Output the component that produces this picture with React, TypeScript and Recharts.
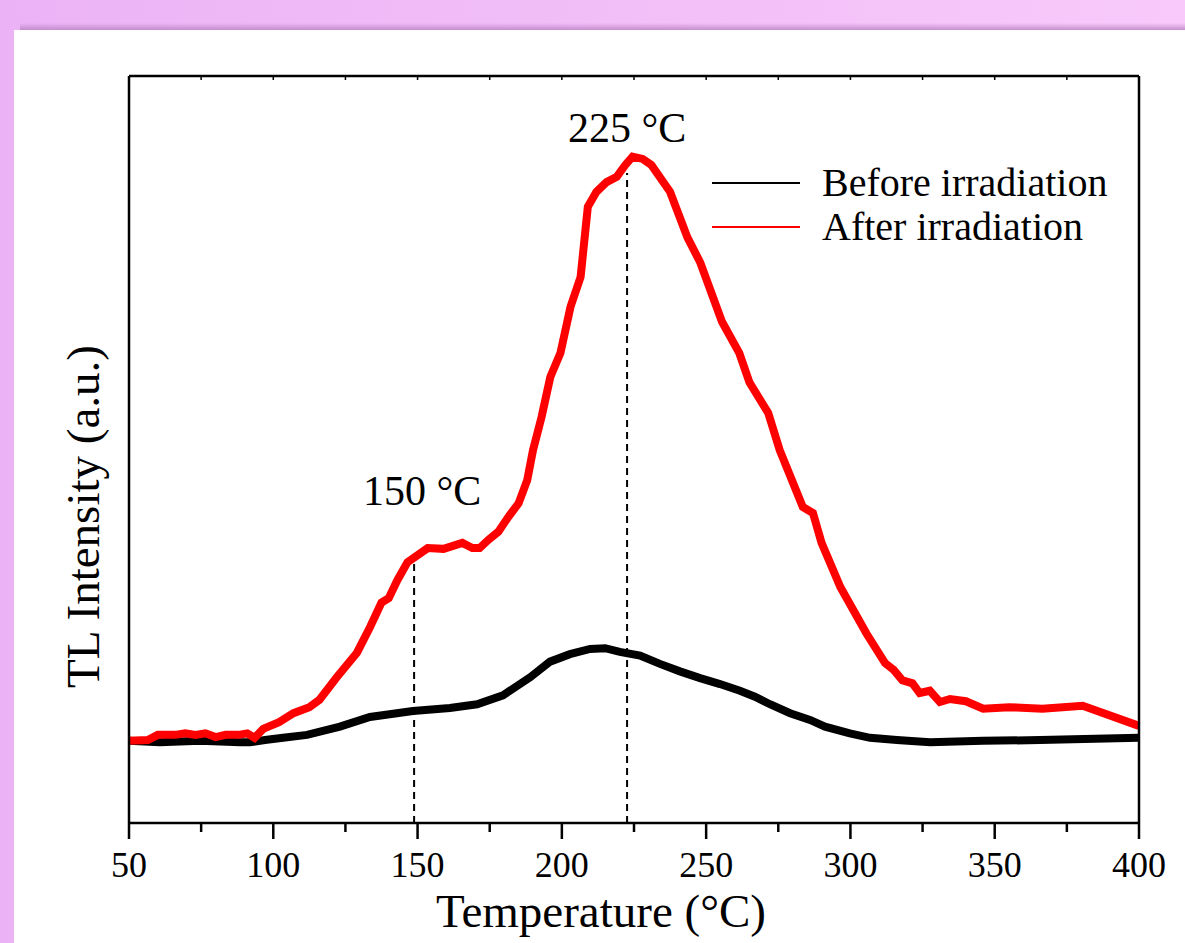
import { LineChart, Line, XAxis, YAxis, ReferenceLine, Legend } from 'recharts';

// Before irradiation (black)
const beforeTemp = [50, 60.7, 74.6, 88.5, 91.9, 97.1, 103.4, 111.7, 123.1, 133.5, 148.4, 161.2, 170.6, 179.6, 189.0, 195.9, 202.8, 209.8, 215.0, 220.1, 227.1, 234.0, 240.9, 247.9, 254.8, 261.7, 266.9, 272.1, 279.1, 286.0, 291.2, 299.8, 306.8, 316.1, 327.6, 345.9, 365.7, 400];
const beforeTL = [11.0, 10.8, 11.0, 10.8, 10.8, 11.1, 11.4, 11.8, 12.9, 14.2, 15.0, 15.4, 15.9, 17.1, 19.5, 21.6, 22.6, 23.3, 23.4, 22.9, 22.4, 21.3, 20.3, 19.4, 18.6, 17.7, 16.9, 15.9, 14.7, 13.8, 12.9, 12.0, 11.4, 11.1, 10.8, 11.0, 11.1, 11.4];

// After irradiation (red)
const afterTemp = [50, 56.5, 60, 66, 69.5, 73, 76.5, 80, 83.5, 88, 91, 93.5, 96.5, 102, 107, 112.5, 116, 122, 129, 133.5, 137.5, 140, 143, 146.5, 153.5, 159, 165.5, 169, 171.5, 174.5, 178, 181.5, 185, 188, 190, 193, 196, 199.5, 203, 206.5, 209, 212, 215.5, 219, 222, 224.5, 228, 231, 237.5, 243.5, 248, 255.5, 261.5, 265, 271.5, 275.5, 283.5, 287, 290, 296.5, 305.5, 312, 315, 318, 321.5, 324, 327.5, 331, 334.5, 340, 346, 355, 366.5, 380.5, 400];
const afterTL = [11.0, 11.1, 11.8, 11.8, 12.0, 11.8, 12.0, 11.5, 11.8, 11.8, 12.0, 11.4, 12.6, 13.5, 14.7, 15.5, 16.5, 19.5, 22.8, 26.2, 29.5, 30.1, 32.5, 34.9, 36.8, 36.7, 37.5, 36.8, 36.8, 37.9, 39.0, 41.0, 42.8, 45.9, 49.9, 54.4, 59.7, 62.9, 69.1, 73.1, 82.5, 84.5, 85.8, 86.5, 88.1, 89.2, 88.9, 88.1, 84.5, 78.4, 75.0, 67.1, 62.9, 59.0, 54.9, 49.9, 42.3, 41.5, 37.5, 31.6, 25.4, 21.4, 20.5, 19.1, 18.7, 17.4, 17.7, 16.2, 16.6, 16.3, 15.3, 15.5, 15.3, 15.7, 13.0];

const xTicks = [50, 75, 100, 125, 150, 175, 200, 225, 250, 275, 300, 325, 350, 375, 400];

// peak markers: temperature, height of dashed line, label
const peakTemp = [148.8, 222.6];
const peakTop = [35, 87];
const peakLabel = ['150 °C', '225 °C'];

const FONT = '"Liberation Serif", "Times New Roman", serif';

const beforeData = beforeTemp.map((t, i) => ({ t, v: beforeTL[i] }));
const afterData = afterTemp.map((t, i) => ({ t, v: afterTL[i] }));

const BottomTick = (props: any) => {
  const { x, y, payload } = props;
  const major = payload.value % 50 === 0;
  return (
    <g>
      <line x1={x} x2={x} y1={y} y2={y + (major ? 16 : 9)} stroke="#000" strokeWidth={2.5} />
      {major && (
        <text x={x} y={y + 54} textAnchor="middle" fontSize={36} fontFamily={FONT} fill="#000">
          {payload.value}
        </text>
      )}
    </g>
  );
};

const TopTick = (props: any) => {
  const { x, y } = props;
  return <line x1={x} x2={x} y1={y} y2={y + 4} stroke="#000" strokeWidth={1.5} />;
};

const YTitle = (props: any) => {
  const vb = props.viewBox || { x: 129, y: 76, height: 747 };
  const cx = vb.x - 29;
  const cy = vb.y + vb.height / 2 + 67;
  return (
    <text
      transform={`translate(${cx}, ${cy}) rotate(-90)`}
      textAnchor="middle"
      fontSize={47}
      fontFamily={FONT}
      fill="#000"
    >
      TL Intensity (a.u.)
    </text>
  );
};

const LegendBox = () => (
  <div style={{ fontFamily: FONT, fontSize: 40, color: '#000' }}>
    {[
      { name: 'Before irradiation', color: '#000' },
      { name: 'After irradiation', color: '#ff0000' },
    ].map((it) => (
      <div key={it.name} style={{ display: 'flex', alignItems: 'center', height: 44, lineHeight: '44px' }}>
        <div style={{ width: 88, height: 2, background: it.color, marginRight: 22 }} />
        <span>{it.name}</span>
      </div>
    ))}
  </div>
);

export default function App() {
  return (
    <div
      style={{
        position: 'absolute',
        left: 0,
        top: 0,
        width: 1185,
        height: 943,
        overflow: 'hidden',
        background: 'linear-gradient(to right, #ebb3f5, #f8c9fa)',
      }}
    >
      <div
        style={{
          position: 'absolute',
          left: 20,
          top: 23,
          right: 0,
          height: 7,
          background: 'linear-gradient(to bottom, rgba(200,150,210,0), rgba(185,130,195,0.8))',
        }}
      />
      <div style={{ position: 'absolute', left: 14, top: 30, right: 0, bottom: 0, background: '#fff' }} />
      <div style={{ position: 'absolute', left: 0, top: 0 }}>
        <LineChart width={1185} height={943} margin={{ top: 75, right: 45, bottom: 119, left: 128 }}>
          <XAxis
            xAxisId="b"
            dataKey="t"
            type="number"
            domain={[50, 400]}
            ticks={xTicks}
            height={1}
            tickSize={0}
            tickMargin={0}
            tickLine={false}
            tick={<BottomTick />}
            axisLine={{ stroke: '#000', strokeWidth: 2.5 }}
            label={{
              value: 'Temperature (°C)',
              position: 'bottom',
              offset: 70,
              fontSize: 47,
              fontFamily: FONT,
              fill: '#000',
              dx: -33,
            }}
          />
          <XAxis
            xAxisId="t"
            orientation="top"
            dataKey="t"
            type="number"
            domain={[50, 400]}
            ticks={xTicks}
            height={1}
            tickSize={0}
            tickMargin={0}
            tickLine={false}
            tick={<TopTick />}
            axisLine={{ stroke: '#000', strokeWidth: 2.5 }}
          />
          <YAxis
            yAxisId="l"
            type="number"
            domain={[0, 100]}
            width={1}
            tick={false}
            tickLine={false}
            axisLine={{ stroke: '#000', strokeWidth: 2.5 }}
            label={{ value: 'TL Intensity (a.u.)', content: <YTitle /> }}
          />
          <YAxis
            yAxisId="r"
            orientation="right"
            type="number"
            domain={[0, 100]}
            width={1}
            tick={false}
            tickLine={false}
            axisLine={{ stroke: '#000', strokeWidth: 2.5 }}
          />
          <Legend
            layout="vertical"
            align="center"
            verticalAlign="middle"
            content={<LegendBox />}
            wrapperStyle={{ left: 712, top: 161, width: 430 }}
          />
          <Line
            xAxisId="b"
            yAxisId="l"
            data={beforeData}
            dataKey="v"
            name="Before irradiation"
            type="linear"
            stroke="#000"
            strokeWidth={8}
            dot={false}
            isAnimationActive={false}
          />
          <Line
            xAxisId="t"
            yAxisId="r"
            data={afterData}
            dataKey="v"
            name="After irradiation"
            type="linear"
            stroke="#ff0000"
            strokeWidth={8}
            dot={false}
            isAnimationActive={false}
          />
          {peakTemp.map((t, i) => (
            <ReferenceLine
              key={t}
              xAxisId="b"
              yAxisId="l"
              segment={[
                { x: t, y: 0 },
                { x: t, y: peakTop[i] },
              ]}
              stroke="#000"
              strokeWidth={2}
              strokeDasharray="7 5"
              label={{
                value: peakLabel[i],
                position: 'top',
                offset: i === 0 ? 57 : 31,
                fontSize: 42,
                fontFamily: FONT,
                fill: '#000',
                dx: i === 0 ? 8 : 0,
              }}
            />
          ))}
        </LineChart>
      </div>
    </div>
  );
}
